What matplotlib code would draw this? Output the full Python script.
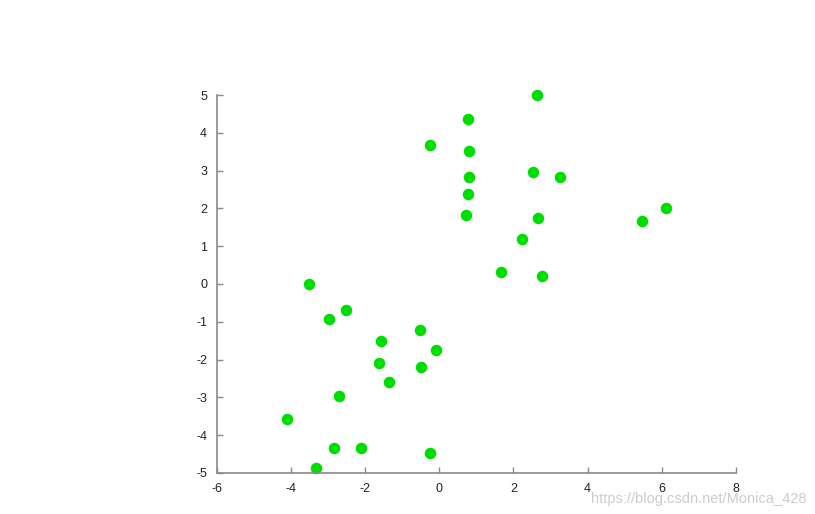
import matplotlib
matplotlib.use("Agg")
import matplotlib.pyplot as plt

# Data
x_vals = [2.63, 0.77, -0.25, 0.80, 0.80, 2.52, 3.25, 0.77, 0.72, 2.66,
          2.23, 5.47, 6.11, 1.66, 2.77, -3.52, -2.98, -2.52, -1.58, -0.52,
          -0.09, -1.63, -0.50, -1.36, -2.70, -4.11, -2.84, -2.12, -0.25, -3.33]
y_vals = [5.00, 4.36, 3.67, 3.51, 2.82, 2.96, 2.82, 2.37, 1.82, 1.74,
          1.18, 1.66, 2.00, 0.33, 0.20, -0.01, -0.94, -0.70, -1.50, -1.23,
          -1.74, -2.08, -2.21, -2.59, -2.96, -3.57, -4.34, -4.34, -4.47, -4.87]
x_ticks = [-6, -4, -2, 0, 2, 4, 6, 8]
y_ticks = [-5, -4, -3, -2, -1, 0, 1, 2, 3, 4, 5]

plt.rcParams["font.family"] = ["Liberation Sans", "DejaVu Sans"]
plt.rcParams["axes.unicode_minus"] = False

fig = plt.figure(figsize=(8.15, 5.14), dpi=100, facecolor="white")
ax = fig.add_axes([0.266, 0.080, 0.637, 0.735])

ax.plot(x_vals, y_vals, "o", color="#00dd00", markersize=8.3,
        markeredgewidth=0, clip_on=False)

ax.set_xlim(-6, 8)
ax.set_ylim(-5, 5)
ax.set_xticks(x_ticks)
ax.set_yticks(y_ticks)

for side in ("top", "right"):
    ax.spines[side].set_visible(False)
for side in ("left", "bottom"):
    ax.spines[side].set_color("#8a8a8a")
    ax.spines[side].set_linewidth(1.2)

ax.tick_params(direction="in", length=4, width=1, color="#8a8a8a",
               labelsize=9, labelcolor="#222222", pad=7)

fig.text(0.989, 0.03, "https://blog.csdn.net/Monica_428", ha="right",
         va="center", fontsize=10.5, color="#cccccc")

fig.savefig("out.png", dpi=100, facecolor="white")
